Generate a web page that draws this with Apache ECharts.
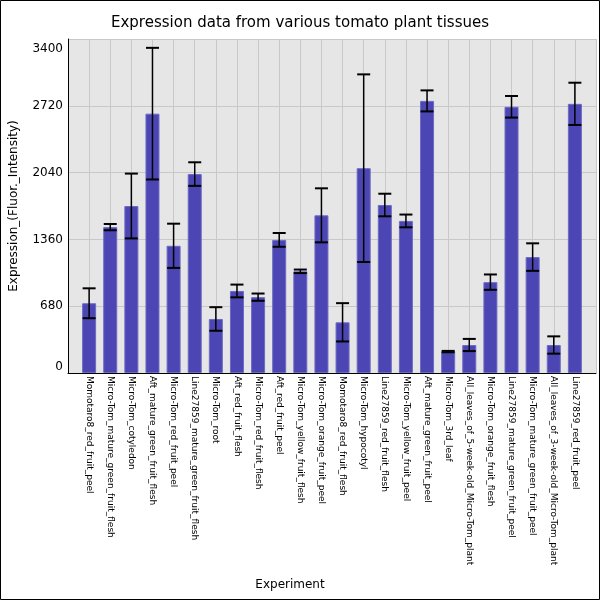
<!DOCTYPE html>
<html>
<head>
<meta charset="utf-8">
<script src="https://cdn.jsdelivr.net/npm/echarts@6/dist/echarts.min.js"></script>
<style>
  html, body { margin: 0; padding: 0; background: #fff; }
  #main { width: 600px; height: 600px; }
</style>
</head>
<body>
<div id="main"></div>
<script>
// tissues, in the order they are drawn
var tissues = [
  'Momotaro8_red_fruit_peel',
  'Micro-Tom_mature_green_fruit_flesh',
  'Micro-Tom_cotyledon',
  'Aft_mature_green_fruit_flesh',
  'Micro-Tom_red_fruit_peel',
  'Line27859_mature_green_fruit_flesh',
  'Micro-Tom_root',
  'Aft_red_fruit_flesh',
  'Micro-Tom_red_fruit_flesh',
  'Aft_red_fruit_peel',
  'Micro-Tom_yellow_fruit_flesh',
  'Micro-Tom_orange_fruit_peel',
  'Momotaro8_red_fruit_flesh',
  'Micro-Tom_hypocotyl',
  'Line27859_red_fruit_flesh',
  'Micro-Tom_yellow_fruit_peel',
  'Aft_mature_green_fruit_peel',
  'Micro-Tom_3rd_leaf',
  'All_leaves_of_5-week-old_Micro-Tom_plant',
  'Micro-Tom_orange_fruit_flesh',
  'Line27859_mature_green_fruit_peel',
  'Micro-Tom_mature_green_fruit_peel',
  'All_leaves_of_3-week-old_Micro-Tom_plant',
  'Line27859_red_fruit_peel'
];

// mean expression and error (+/-)
var expression = [710, 1485, 1700, 2640, 1295, 2025, 550, 835, 772, 1355,
                  1035, 1605, 516, 2085, 1710, 1548, 2770, 218, 285, 925,
                  2710, 1180, 285, 2740];
var errors = [152, 32, 330, 670, 225, 120, 120, 65, 37, 70,
              18, 275, 195, 955, 115, 65, 107, 7, 62, 78,
              110, 140, 88, 215];

var yTicks = { min: 0, max: 3400, step: 680 };

var barData = [];
var errData = [];
for (var i = 0; i < tissues.length; i++) {
  barData.push([i, expression[i]]);
  errData.push([i, expression[i] - errors[i], expression[i] + errors[i]]);
}

var myChart = echarts.init(document.getElementById('main'));

var option = {
  animation: false,
  textStyle: { fontFamily: 'DejaVu Sans' },
  title: {
    text: 'Expression data from various tomato plant tissues',
    left: 'center',
    top: 11,
    textStyle: { fontSize: 15, fontWeight: 'normal', color: '#000', fontFamily: 'DejaVu Sans' }
  },
  graphic: [{
    type: 'rect',
    shape: { x: 0.5, y: 0.5, width: 599, height: 599 },
    style: { fill: 'none', stroke: '#000', lineWidth: 1 },
    silent: true
  }],
  grid: {
    left: 66, right: 4, top: 39, bottom: 227,
    show: true,
    backgroundColor: '#e6e6e6',
    borderWidth: 0
  },
  xAxis: {
    type: 'value',
    min: -1,
    max: tissues.length,
    interval: 1,
    name: 'Experiment',
    nameLocation: 'middle',
    nameGap: 206,
    nameTextStyle: { fontSize: 12, color: '#000', padding: [0, 84, 0, 0] },
    axisLine: { show: true, onZero: false, lineStyle: { color: '#000', width: 1 } },
    axisTick: { show: false },
    splitLine: { show: true, lineStyle: { color: '#c8c8c8', width: 1 } },
    axisLabel: {
      rotate: -90,
      fontSize: 9,
      color: '#000',
      margin: 3,
      showMinLabel: false,
      showMaxLabel: false,
      formatter: function (v) { return tissues[v] || ''; }
    }
  },
  yAxis: {
    type: 'value',
    min: yTicks.min,
    max: yTicks.max,
    interval: yTicks.step,
    name: 'Expression_(Fluor._Intensity)',
    nameLocation: 'middle',
    nameGap: 48,
    nameTextStyle: { fontSize: 12, color: '#000' },
    axisLine: { show: true, onZero: false, lineStyle: { color: '#000', width: 1 } },
    axisTick: { show: false },
    splitLine: { show: true, lineStyle: { color: '#c8c8c8', width: 1 } },
    axisLabel: {
      fontSize: 12,
      color: '#000',
      margin: 5,
      formatter: function (v) {
        return v === yTicks.max ? '{mx|' + v + '}' : String(v);
      },
      rich: { mx: { fontSize: 12, color: '#000', padding: [4, 0, 0, 0] } },
      verticalAlignMinLabel: 'bottom',
      verticalAlignMaxLabel: 'top'
    }
  },
  series: [
    {
      name: 'Expression',
      type: 'bar',
      barWidth: 14,
      data: barData,
      itemStyle: { color: '#4b46b3', borderColor: '#6d6ac4', borderWidth: 1 }
    },
    {
      name: 'Error',
      type: 'custom',
      data: errData,
      z: 10,
      renderItem: function (params, api) {
        var x = api.value(0);
        var lo = api.coord([x, api.value(1)]);
        var hi = api.coord([x, api.value(2)]);
        var half = 6.5;
        return {
          type: 'group',
          children: [
            { type: 'line', shape: { x1: hi[0], y1: hi[1], x2: lo[0], y2: lo[1] }, style: { stroke: '#000', lineWidth: 1.5 } },
            { type: 'line', shape: { x1: hi[0] - half, y1: hi[1], x2: hi[0] + half, y2: hi[1] }, style: { stroke: '#000', lineWidth: 2 } },
            { type: 'line', shape: { x1: lo[0] - half, y1: lo[1], x2: lo[0] + half, y2: lo[1] }, style: { stroke: '#000', lineWidth: 2 } }
          ]
        };
      }
    }
  ]
};

myChart.setOption(option);
</script>
</body>
</html>
